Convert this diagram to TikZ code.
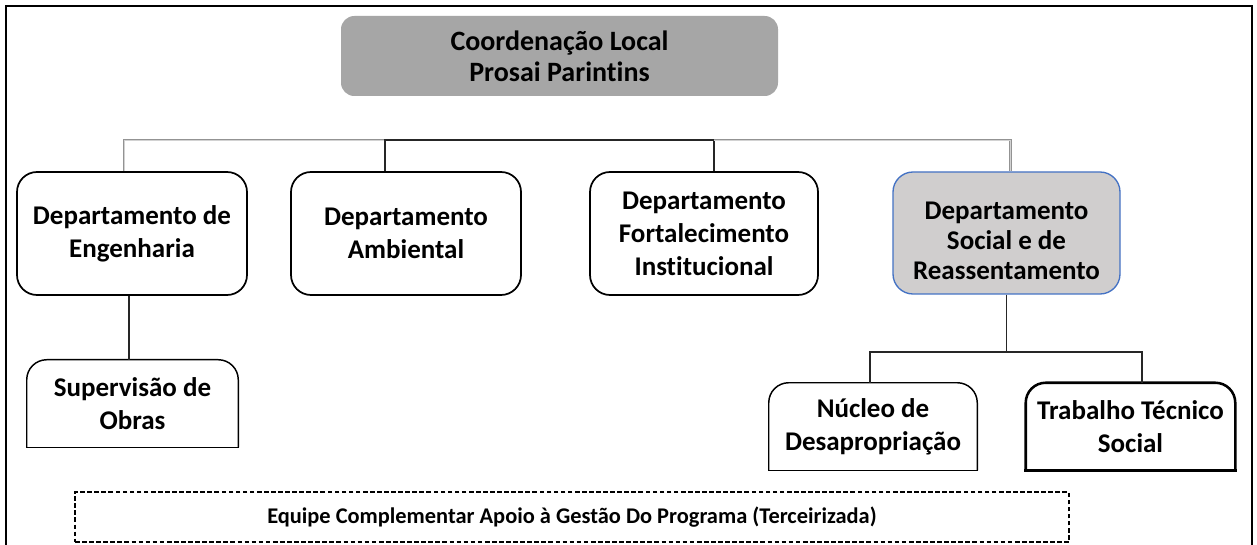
\documentclass[tikz,border=0pt]{standalone}
\usepackage{fontspec}
\setmainfont[Ligatures=NoCommon, RawFeature={-liga;-dlig;-clig;-calt}]{Carlito}
\usetikzlibrary{calc}
\definecolor{topgray}{HTML}{A6A6A6}
\definecolor{socgray}{HTML}{D0CECE}
\definecolor{socblue}{HTML}{4472C4}
\tikzset{
  lbl/.style={font=\bfseries\fontsize{20.25pt}{24.75pt}\selectfont, align=center, inner sep=0pt},
  deptbox/.style={lbl, draw=black, line width=1.3pt, rounded corners=15pt, fill=white,
    minimum width=172.5pt, minimum height=92.25pt},
  topbox/.style={lbl, fill=topgray, rounded corners=10pt, minimum width=327.75pt, minimum height=60pt,
    font=\bfseries\fontsize{21pt}{23.5pt}\selectfont},
  socbox/.style={deptbox, draw=socblue, line width=1pt, fill=socgray, minimum width=170.25pt, minimum height=91.5pt},
  soctext/.style={lbl, font=\bfseries\fontsize{20.25pt}{22.5pt}\selectfont},
  subbox/.style={lbl, minimum height=65.25pt},
  toppart/.style={rounded corners=15pt},
  dashbox/.style={draw=black, line width=1pt, dash pattern=on 3.5pt off 1.8pt,
    minimum width=745.5pt, minimum height=37.5pt, inner sep=0pt,
    font=\bfseries\fontsize{16.8pt}{20pt}\selectfont},
  link/.style={draw=black!85, line width=0.9pt},
  graylink/.style={draw=gray!85, double=gray!35, double distance=0.6pt, line width=0.6pt},
}
\begin{document}
\begin{tikzpicture}[x=0.75pt, y=-0.75pt]
\useasboundingbox (0,0) rectangle (1257,545);
\fill[white] (0,0) rectangle (1257,545);
\clip (0,0) rectangle (1257,545);
% outer frame
\draw[line width=2.2pt] (6,560) -- (6,6) -- (1252,6) -- (1252,560);

% nodes
\node[topbox] (top) at (559.5,56) {Coordenação Local\\Prosai Parint\kern0pt ins};
\node[deptbox] (eng) at (132,233.5) {Departamento de\\Engenharia};
\node[deptbox] (amb) at (406,233.5) {Departamento\\Ambiental};
\node[deptbox, minimum width=171pt] (fort) at (704,233.5) {Departamento\\Fortalecimento\\Inst\kern0pt itucional};
\node[socbox] (soc) at (1006.5,233) {};
\node[soctext] (soctxt) at (1006.5,241) {Departamento\\Social e de\\Reassentamento};
\node[subbox, minimum width=158.25pt] (sup) at (132.5,403.5) {Supervisão de\\Obras};
\node[subbox, minimum width=156pt] (nuc) at (873,426.5) {Núcleo de\\Desapropriação};
\node[subbox, minimum width=156.75pt] (trab) at (1130.5,426.5) {Trabalho Técnico\\Social};
\node[dashbox] (equipe) at (572,517) {Equipe Complementar Apoio à Gestão Do Programa (Terceirizada)};

% top-rounded box outlines
\draw[line width=1.1pt, toppart] (sup.south west) -- (sup.north west) -- (sup.north east) -- (sup.south east);
\draw[line width=1.1pt, line cap=rect] (sup.south west) -- (sup.south east);
\draw[line width=1.1pt, toppart] (nuc.south west) -- (nuc.north west) -- (nuc.north east) -- (nuc.south east);
\draw[line width=1.1pt, line cap=rect] (nuc.south west) -- (nuc.south east);
\draw[line width=1.9pt, toppart] (trab.south west) -- (trab.north west) -- (trab.north east) -- (trab.south east);
\draw[line width=1.9pt, line cap=rect] (trab.south west) -- (trab.south east);

% connectors
\coordinate (bus) at (560,140);
\coordinate (kids) at (1006.5,352);
\draw[graylink] ([xshift=-6pt]eng.north) |- ([xshift=-15.75pt]amb.north |- bus);
\draw[link] ([xshift=-15.75pt]amb.north) |- ([xshift=7.5pt]fort.north |- bus) -- ([xshift=7.5pt]fort.north);
\draw[graylink] ([xshift=7.5pt]fort.north |- bus) -| ([xshift=3pt]soc.north);
\draw[link] ([xshift=-2.25pt]eng.south) -- ([xshift=-2.25pt]eng.south |- sup.north);
\draw[link] (soc.south) -- (soc.south |- kids);
\draw[link] ([xshift=-2.25pt]nuc.north) |- ([xshift=8.6pt]trab.north |- kids) -- ([xshift=8.6pt]trab.north);
\end{tikzpicture}
\end{document}
